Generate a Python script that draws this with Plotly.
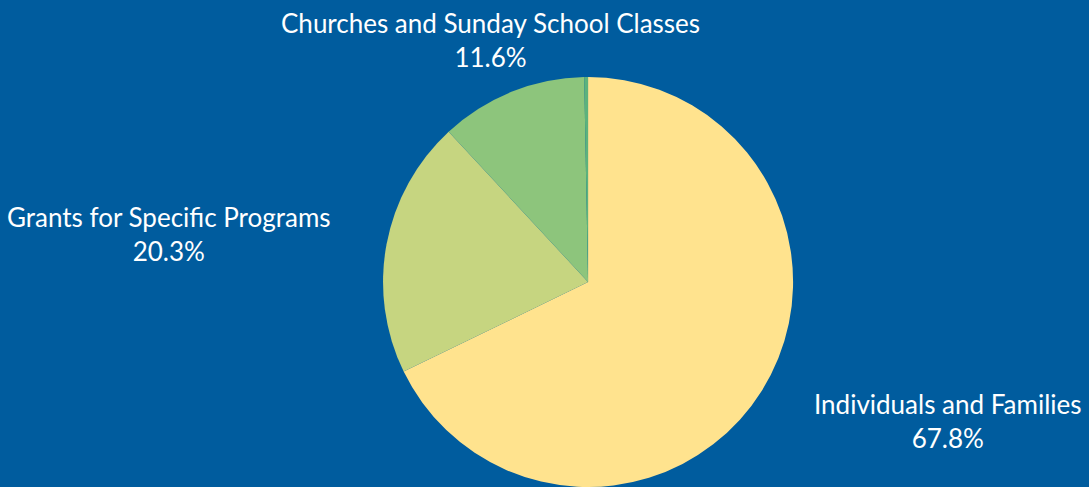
import plotly.graph_objects as go

labels = ["Individuals and Families", "Grants for Specific Programs",
          "Churches and Sunday School Classes", "Other"]
values = [67.8, 20.3, 11.6, 0.3]
colors = ["#FFE38E", "#C6D580", "#8DC57C", "#5DB27C"]
shown = [True, True, True, False]

# label block centres (paper coords) for the three labelled slices
label_pos = [(0.8705, 0.1355), (0.155, 0.5195), (0.45, 0.918), None]

BG = "#005C9E"
FONT = "Lato"

fig = go.Figure(go.Pie(
    labels=labels, values=values, sort=False, direction="clockwise", rotation=0,
    marker=dict(colors=colors, line=dict(width=0)),
    textinfo="none", showlegend=False,
    domain=dict(x=[0.35, 0.73], y=[0.0, 0.842]),
))

total = sum(values)
for lab, v, pos, s in zip(labels, values, label_pos, shown):
    if not s:
        continue
    fig.add_annotation(
        x=pos[0], y=pos[1], xref="paper", yref="paper",
        xanchor="center", yanchor="middle", showarrow=False,
        text=f"{lab}<br>{100 * v / total:.1f}%",
        font=dict(family=FONT, size=26, color="white"),
    )

fig.update_layout(
    width=1089, height=487,
    margin=dict(l=0, r=0, t=0, b=0),
    paper_bgcolor=BG, plot_bgcolor=BG,
)

fig.write_html(
    "out.html",
    config={"displayModeBar": False},
    post_script="document.body.style.margin='0';document.body.style.background='%s';" % BG,
)
